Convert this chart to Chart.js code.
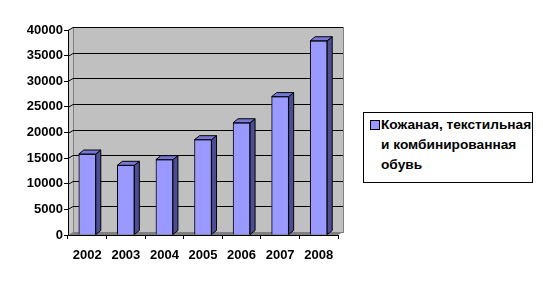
<!DOCTYPE html>
<html lang="ru">
<head>
  <meta charset="UTF-8" />
  <title>Кожаная, текстильная и комбинированная обувь</title>
  <script src="https://cdn.jsdelivr.net/npm/chart.js"></script>
  <style>
    body { margin: 0; background: #fff; }
    #wrap { position: relative; width: 543px; height: 285px; }
    #legend {
      position: absolute; left: 363px; top: 112px; width: 168px; height: 69px;
      border: 1px solid #000; background: #fff;
      font: bold 13.7px "Liberation Sans", Arial, sans-serif; color: #000;
    }
    #legend .box {
      position: absolute; left: 6px; top: 7px; width: 8px; height: 8px;
      background: #9999ff; border: 1px solid #000;
    }
    #legend .txt { position: absolute; left: 17px; top: 2px; line-height: 20px; white-space: nowrap; }
  </style>
</head>
<body>
  <div id="wrap">
    <canvas id="chart" width="543" height="285"></canvas>
    <div id="legend"><span class="box"></span><div class="txt" id="legendText"></div></div>
  </div>

  <script>
    const years = ['2002', '2003', '2004', '2005', '2006', '2007', '2008'];
    const shoes = [15800, 13600, 14700, 18600, 21900, 27000, 37900];
    const seriesName = 'Кожаная, текстильная и комбинированная обувь';
    const legendLines = ['Кожаная, текстильная', 'и комбинированная', 'обувь'];

    document.getElementById('legendText').innerHTML = legendLines.join('<br>');

    const depthX = 5, depthY = 3;     // back wall offset
    const barDx = 5, barDy = 4;       // bar depth

    // walls, floor and gridlines behind everything
    const walls = {
      id: 'walls',
      beforeDraw(chart) {
        const { ctx, chartArea: a, scales: { y } } = chart;
        ctx.save();
        // left wall
        ctx.fillStyle = '#c8c8c8';
        ctx.beginPath();
        ctx.moveTo(a.left, a.top);
        ctx.lineTo(a.left + depthX, a.top - depthY);
        ctx.lineTo(a.left + depthX, a.bottom - depthY);
        ctx.lineTo(a.left, a.bottom);
        ctx.closePath();
        ctx.fill();
        // back wall
        ctx.fillStyle = '#c0c0c0';
        ctx.fillRect(a.left + depthX, a.top - depthY, a.right - a.left, a.bottom - a.top);
        ctx.strokeStyle = '#808080';
        ctx.lineWidth = 1;
        ctx.strokeRect(a.left + depthX + 0.5, a.top - depthY + 0.5, a.right - a.left, a.bottom - a.top);
        // floor
        ctx.fillStyle = '#808080';
        ctx.beginPath();
        ctx.moveTo(a.left, a.bottom);
        ctx.lineTo(a.left + depthX, a.bottom - depthY);
        ctx.lineTo(a.right + depthX, a.bottom - depthY);
        ctx.lineTo(a.right, a.bottom);
        ctx.closePath();
        ctx.fill();
        // gridlines
        ctx.strokeStyle = '#000';
        y.ticks.forEach(t => {
          if (t.value === 0) return;
          const py = Math.round(y.getPixelForValue(t.value)) + 0.5;
          ctx.beginPath();
          ctx.moveTo(a.left, py);
          ctx.lineTo(a.left + depthX, py - depthY);
          ctx.lineTo(a.right + depthX, py - depthY);
          ctx.stroke();
        });
        ctx.restore();
      },
      afterDatasetsDraw(chart) {
        const { ctx } = chart;
        const meta = chart.getDatasetMeta(0);
        ctx.save();
        ctx.strokeStyle = '#000';
        ctx.lineWidth = 1;
        meta.data.forEach(bar => {
          const l = bar.x - bar.width / 2, r = bar.x + bar.width / 2;
          const t = bar.y, b = bar.base;
          // side
          ctx.fillStyle = '#4d4d94';
          ctx.beginPath();
          ctx.moveTo(r, t);
          ctx.lineTo(r + barDx, t - barDy);
          ctx.lineTo(r + barDx, b - barDy);
          ctx.lineTo(r, b);
          ctx.closePath();
          ctx.fill();
          ctx.stroke();
          // top
          ctx.fillStyle = '#7777d6';
          ctx.beginPath();
          ctx.moveTo(l, t);
          ctx.lineTo(l + barDx, t - barDy);
          ctx.lineTo(r + barDx, t - barDy);
          ctx.lineTo(r, t);
          ctx.closePath();
          ctx.fill();
          ctx.stroke();
        });
        ctx.restore();
      }
    };

    const tickFont = { family: '"Liberation Sans", Arial, sans-serif', size: 13, weight: 'bold' };

    new Chart(document.getElementById('chart'), {
      type: 'bar',
      data: {
        labels: years,
        datasets: [{
          label: seriesName,
          data: shoes,
          backgroundColor: '#9999ff',
          borderColor: '#000',
          borderWidth: 1,
          barThickness: 17
        }]
      },
      options: {
        responsive: false,
        animation: false,
        layout: { padding: { left: 0, right: 205, top: 30, bottom: 0 } },
        plugins: { legend: { display: false }, tooltip: { enabled: false } },
        scales: {
          x: {
            grid: { drawOnChartArea: false, color: '#000', tickLength: 4 },
            border: { color: '#000' },
            ticks: { color: '#000', font: tickFont, padding: 9, maxRotation: 0 },
            afterFit: s => { s.height = 50; }
          },
          y: {
            min: 0, max: 40000,
            grid: { drawOnChartArea: false, color: '#000', tickLength: 4 },
            border: { color: '#000' },
            ticks: { stepSize: 5000, color: '#000', font: tickFont, padding: 1,
                     callback: v => String(v) },
            afterFit: s => { s.width = 68; }
          }
        }
      },
      plugins: [walls]
    });
  </script>
</body>
</html>
